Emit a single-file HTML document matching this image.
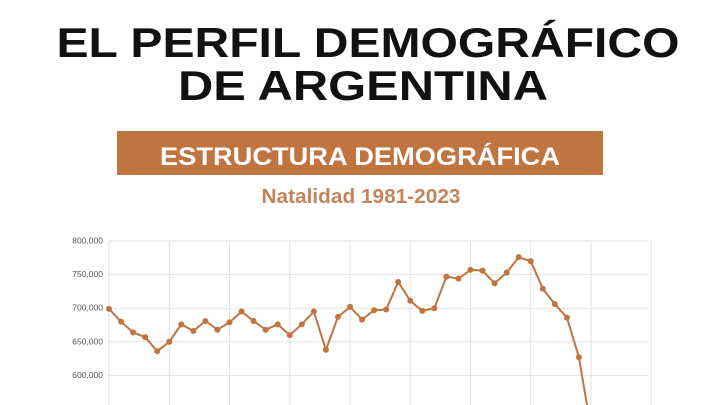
<!DOCTYPE html>
<html><head><meta charset="utf-8"><style>
html,body{margin:0;padding:0;background:#fff;width:720px;height:405px;overflow:hidden}
svg{display:block;overflow:hidden}
</style></head><body>
<svg width="720" height="405" viewBox="0 0 720 405" font-family="Liberation Sans, sans-serif">
<defs><clipPath id="plotclip"><rect x="0" y="236" width="720" height="169"/></clipPath></defs>
<text x="368" y="57" text-anchor="middle" font-size="42" font-weight="bold" fill="#111" textLength="623" lengthAdjust="spacingAndGlyphs">EL PERFIL DEMOGRÁFICO</text>
<text x="363" y="100" text-anchor="middle" font-size="42" font-weight="bold" fill="#111" textLength="370" lengthAdjust="spacingAndGlyphs">DE ARGENTINA</text>
<rect x="117" y="131" width="486" height="44" fill="#c07440"/>
<text x="360" y="165" text-anchor="middle" font-size="25" font-weight="bold" fill="#fff" textLength="400" lengthAdjust="spacingAndGlyphs">ESTRUCTURA DEMOGRÁFICA</text>
<text x="361" y="203" text-anchor="middle" font-size="20" font-weight="bold" fill="#c58458" textLength="199" lengthAdjust="spacingAndGlyphs">Natalidad 1981-2023</text>
<g id="chart" clip-path="url(#plotclip)"></g>
</svg>
<script>
const years=[1981,1982,1983,1984,1985,1986,1987,1988,1989,1990,1991,1992,1993,1994,1995,1996,1997,1998,1999,2000,2001,2002,2003,2004,2005,2006,2007,2008,2009,2010,2011,2012,2013,2014,2015,2016,2017,2018,2019,2020,2021,2022,2023];
const births=[699000,680000,664000,657000,636000,650000,676000,666000,681000,668000,679000,695000,681000,668000,676000,660000,676000,695000,638000,687000,702000,683000,697000,698000,739000,711000,696000,700000,747000,744000,757000,756000,737000,753000,776000,770000,729000,706000,686000,627000,520000,495000,460000];
const yTicks=[800000,750000,700000,650000,600000];
const xGridYears=[1981,1986,1991,1996,2001,2006,2011,2016,2021,2026];
const NS='http://www.w3.org/2000/svg';
const g=document.getElementById('chart');
const X=y=>109+(y-1981)*12.05;
const Y=v=>241+(800000-v)/50000*33.6;
function mk(t,a){const e=document.createElementNS(NS,t);for(const k in a)e.setAttribute(k,a[k]);g.appendChild(e);return e;}
yTicks.forEach(v=>{
 const l=mk('line',{x1:109,x2:648,y1:Y(v),y2:Y(v),stroke:'#e2e2e2','stroke-width':1});
 
 
 const t=mk('text',{x:103,y:Y(v)+2.5,'text-anchor':'end','font-size':8.5,fill:'#555'});
 t.textContent=v.toLocaleString('en-US');
 
 
});
xGridYears.forEach(yr=>{
 const l=mk('line',{x1:X(yr),x2:X(yr),y1:241,y2:405,stroke:'#e2e2e2','stroke-width':1});
 
 
});
const p=mk('polyline',{points:years.map((y,i)=>X(y)+','+Y(births[i])).join(' '),fill:'none',stroke:'#c07440','stroke-width':2});


years.forEach((y,i)=>{
 if(Y(births[i])>402)return;
 const c=mk('circle',{cx:X(y),cy:Y(births[i]),r:3,fill:'#c07440'});
 
 
});
</script>
</body></html>
